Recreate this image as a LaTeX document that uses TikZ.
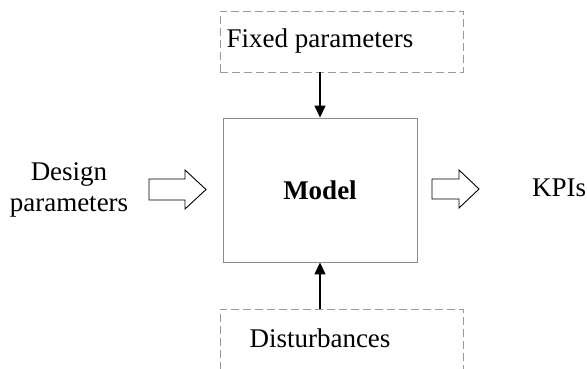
\documentclass[tikz,border=0pt]{standalone}
\usepackage{fontspec}
\setmainfont{Liberation Serif}
\usetikzlibrary{arrows.meta}
\begin{document}
\begin{tikzpicture}[x=1pt,y=-1pt,
  every node/.style={font=\fontsize{27}{31}\selectfont, inner sep=0pt},
  dashbox/.style={draw=black!40, line width=0.9pt, dash pattern=on 8pt off 4pt,
    minimum width=243pt, minimum height=61pt},
  modelbox/.style={draw=black!45, line width=0.9pt, minimum width=194pt, minimum height=144pt},
  feed/.style={line width=1.3pt, -{Triangle[length=12pt,width=11pt]}},
  blockarrow/.style={draw=black, line width=0.9pt, fill=white},
  lbl/.style={align=center}]
  \useasboundingbox (0,0) rectangle (587,368);
  \clip (0,0) rectangle (587,368);

  % main block
  \node[modelbox] (model) at (320,190) {};
  \node[font=\fontsize{27}{31}\selectfont\bfseries] (modeltxt) at (model.center) {Model};

  % fixed parameters (top) and disturbances (bottom)
  \node[dashbox] (fixed) at (341.5,41.5) {};
  \node (fixedtxt) at (320,41.5) {Fixed parameters};
  \node[dashbox] (dist) at (341.5,339.5) {};
  \node (disttxt) at (320,338) {Disturbances};

  \draw[feed] (fixed.south -| model.north) -- (model.north);
  \draw[feed] (dist.north -| model.south) -- (model.south);

  % inputs and outputs
  \node[lbl] (design) at (69,190) {Design\\parameters};
  \node[anchor=west] (kpi) at (532,188) {KPIs};

  % hollow block arrows
  \draw[blockarrow] (149,179) -- (185,179) -- (185,170) -- (206,189.5)
     -- (185,209) -- (185,200) -- (149,200) -- cycle;
  \draw[blockarrow] (432,179) -- (459,179) -- (459,170) -- (479,189)
     -- (459,208) -- (459,199) -- (432,199) -- cycle;
\end{tikzpicture}
\end{document}
